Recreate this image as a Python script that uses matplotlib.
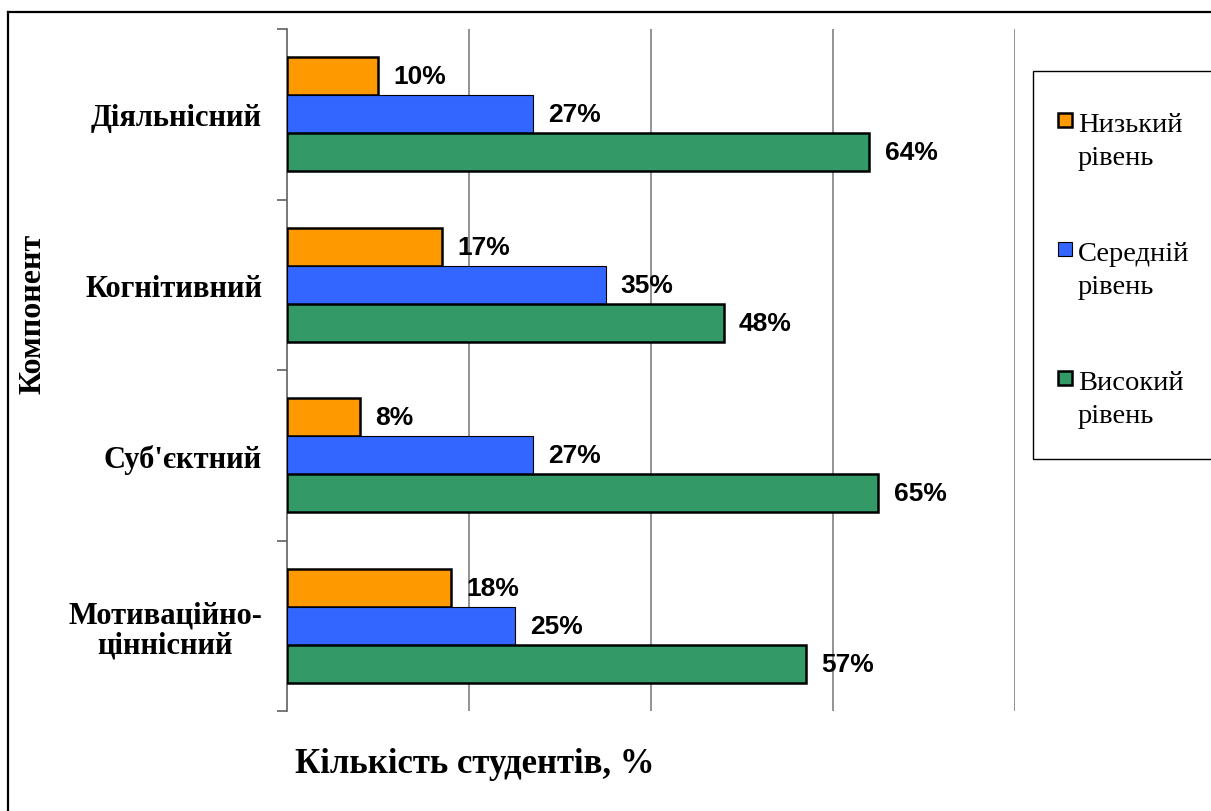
import matplotlib
matplotlib.use("Agg")
import matplotlib.pyplot as plt
from matplotlib.patches import Rectangle
from matplotlib.lines import Line2D
import numpy as np

# data
categories = ["Діяльнісний", "Когнітивний", "Суб'єктний", "Мотиваційно-\nціннісний"]
low = [10, 17, 8, 18]
mid = [27, 35, 27, 25]
high = [64, 48, 65, 57]
series_names = ["Низький\nрівень", "Середній\nрівень", "Високий\nрівень"]
colors = ["#FF9900", "#3366FF", "#339966"]
edge_widths = [1.8, 0.8, 1.8]

W, H = 1211, 812
fig = plt.figure(figsize=(W / 100, H / 100), dpi=100)

def fx(px):
    return px / W

def fy(py):
    return 1 - py / H

ax = fig.add_axes([fx(287), fy(712), fx(1015) - fx(287), fy(30) - fy(712)])

serif = ["Liberation Serif", "DejaVu Serif"]
sans = ["Liberation Sans", "DejaVu Sans"]

bar_h = 0.2235
y = np.arange(len(categories))
for k, vals in enumerate([low, mid, high]):
    pos = y + (k - 1) * bar_h
    bars = ax.barh(pos, vals, height=bar_h, color=colors[k], edgecolor="black",
                   linewidth=edge_widths[k], zorder=3)
    for b, v in zip(bars, vals):
        ax.annotate(f"{v}%", (b.get_width(), b.get_y() + b.get_height() / 2),
                    xytext=(11, 0), textcoords="offset points", va="center", ha="left",
                    fontsize=19, fontweight="bold", family=sans)

ax.set_xlim(0, 80)
ax.set_ylim(len(categories) - 0.5, -0.5)
ax.set_xticks([20, 40, 60, 80])
ax.tick_params(axis="x", length=0, labelbottom=False)
ax.grid(axis="x", color="#808080", linewidth=1.2, zorder=0)

ax.set_yticks(y)
ax.set_yticklabels(categories, fontsize=22, fontweight="bold", family=serif,
                   multialignment="center", linespacing=1.05)
ax.set_yticks(np.arange(len(categories) + 1) - 0.5, minor=True)
ax.tick_params(axis="y", which="major", length=0, pad=18)
ax.tick_params(axis="y", which="minor", length=7, color="#606060", width=1.2)

for s in ["top", "right", "bottom"]:
    ax.spines[s].set_visible(False)
ax.spines["left"].set_color("#606060")
ax.spines["left"].set_linewidth(1.2)

fig.text(fx(33), fy(314), "Компонент", rotation=90, ha="center", va="center",
         fontsize=23, fontweight="bold", family=serif)
fig.text(fx(475), fy(765), "Кількість студентів, %", ha="center", va="center",
         fontsize=25, fontweight="bold", family=serif)

# outer frame (cut off at right and bottom)
fig.add_artist(Line2D([fx(8), 1.0], [fy(13), fy(13)], color="black", linewidth=1.6))
fig.add_artist(Line2D([fx(8), fx(8)], [fy(13), 0.0], color="black", linewidth=1.6))

# legend box
fig.add_artist(Rectangle((fx(1033), fy(460)), 1.0 - fx(1033) + 0.01, fy(72) - fy(460),
                         transform=fig.transFigure, facecolor="white", edgecolor="black",
                         linewidth=1.0))
sq = 14
for k, name in enumerate(series_names):
    cy = [121, 250, 379][k]
    fig.add_artist(Rectangle((fx(1058), fy(cy + sq / 2)), sq / W, sq / H,
                             transform=fig.transFigure, facecolor=colors[k],
                             edgecolor="black", linewidth=edge_widths[k]))
    fig.text(fx(1078), fy(cy + 21), name, ha="left", va="center", fontsize=20.5,
             family=serif, linespacing=1.4)

fig.savefig("out.png", dpi=100)
